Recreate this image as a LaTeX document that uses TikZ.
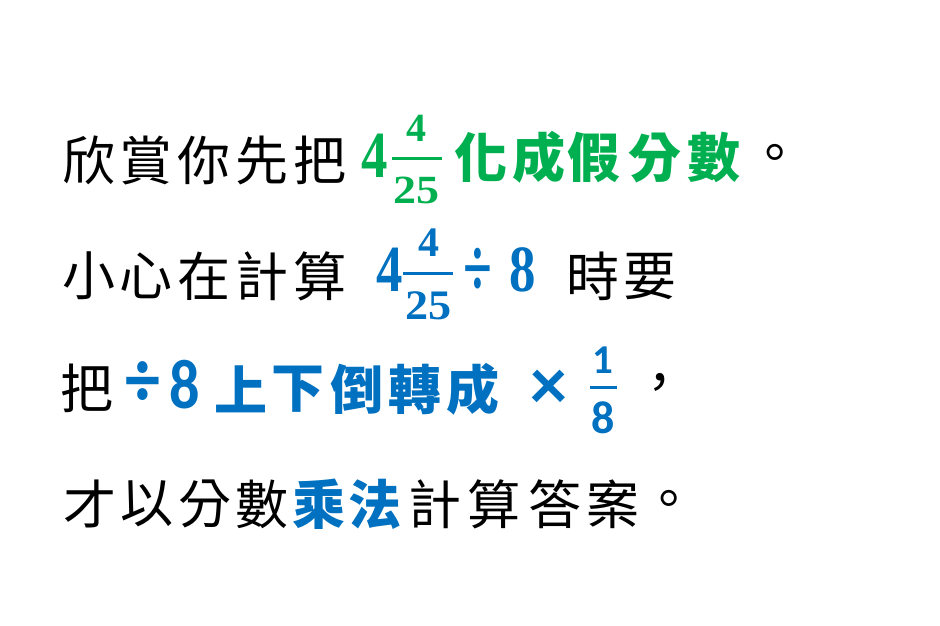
\documentclass[tikz,border=0pt]{standalone}
\usepackage{fontspec}
\newfontfamily\cjk{Noto Sans CJK TC}
\newfontfamily\serifnum{Liberation Serif}
\newfontfamily\sansnum{Carlito}
\definecolor{mygreen}{RGB}{0,176,80}
\definecolor{myblue}{RGB}{0,112,192}
\newcommand\sxy[3]{\scalebox{#1}[#2]{#3}}
\tikzset{
  glyph/.style={inner sep=0pt, outer sep=0pt, anchor=center},
  blk/.style={glyph, text=black, font=\cjk\fontsize{53}{53}\selectfont},
  grn/.style={glyph, text=mygreen, font=\cjk\bfseries\fontsize{53}{53}\selectfont},
  blu/.style={glyph, text=myblue, font=\cjk\bfseries\fontsize{53}{53}\selectfont},
  snum/.style={glyph, font=\serifnum\bfseries\fontsize{#1}{#1}\selectfont},
  anum/.style={glyph, font=\sansnum\bfseries\fontsize{#1}{#1}\selectfont},
  fbar/.style={line width=3pt}
}
\begin{document}
\begin{tikzpicture}[x=1pt,y=-1pt]
\fill[white] (0,0) rectangle (940,626);
\useasboundingbox (0,0) rectangle (940,626);
% ---- line 1
\foreach \ch/\xx [count=\i] in {欣/88.5,賞/146,你/204,先/262,把/320}
  \node[blk] (la\i) at (\xx,160) {\ch};
\node[snum=66, text=mygreen] (lawhole) at (375,155.5) {\sxy{0.8}{1}{4}};
\node[snum=40, text=mygreen] (lanum) at (416.5,128.5) {4};
\node[snum=40, text=mygreen] (laden) at (416.5,190) {\sxy{1.15}{1}{25}};
\coordinate (labl) at (392,158);
\coordinate (labr) at (442,158);
\draw[fbar, mygreen] (labl) -- (labr);
\foreach \ch/\xx [count=\i] in {化/481,成/538.5,假/594,分/655,數/714}
  \node[grn] (lb\i) at (\xx,157.5) {\ch};
\node[blk] (laend) at (775,158.5) {。};
% ---- line 2
\foreach \ch/\xx [count=\i] in {小/88.5,心/146,在/204,計/262,算/320}
  \node[blk] (ma\i) at (\xx,276) {\ch};
\node[snum=66, text=myblue] (mawhole) at (390,270) {\sxy{0.8}{1}{4}};
\node[snum=42, text=myblue] (manum) at (429,242.5) {4};
\node[snum=42, text=myblue] (maden) at (428.5,306) {\sxy{1.1}{1}{25}};
\coordinate (mabl) at (403,273);
\coordinate (mabr) at (453,273);
\draw[fbar, myblue] (mabl) -- (mabr);
\node[snum=70, text=myblue] (madiv) at (477.5,272.5) {\sxy{0.75}{1.2}{÷}};
\node[snum=66, text=myblue] (maeight) at (522.5,270) {\sxy{0.8}{1}{8}};
\node[blk] (mb1) at (592.5,276) {時};
\node[blk] (mb2) at (650,276) {要};
% ---- line 3
\node[blk] (na1) at (87,388) {把};
\node[anum=70, text=myblue] (nadiv) at (143,384.5) {\sxy{1}{1.15}{÷}};
\node[anum=70, text=myblue] (naeight) at (184.5,385) {\sxy{0.86}{1}{8}};
\foreach \ch/\xx [count=\i] in {上/241,下/297.5,倒/356.5,轉/414.5,成/472.5}
  \node[blu] (nb\i) at (\xx,389) {\ch};
\node[anum=74, text=myblue] (natimes) at (548.5,390) {×};
\node[anum=41, text=myblue] (nanum) at (603,360) {1};
\coordinate (nabl) at (590,387);
\coordinate (nabr) at (617,387);
\draw[fbar, myblue] (nabl) -- (nabr);
\node[anum=46, text=myblue] (naden) at (603.5,417.5) {8};
\node[blk] (nacomma) at (660,387.5) {，};
% ---- line 4
\foreach \ch/\xx [count=\i] in {才/89.5,以/147,分/205,數/262}
  \node[blk] (oa\i) at (\xx,504) {\ch};
\node[blu] (ob1) at (319,504) {乘};
\node[blu] (ob2) at (375,504) {法};
\foreach \ch/\xx [count=\i] in {計/435,算/494,答/555,案/613,。/668.5}
  \node[blk] (oc\i) at (\xx,504) {\ch};
\end{tikzpicture}
\end{document}
